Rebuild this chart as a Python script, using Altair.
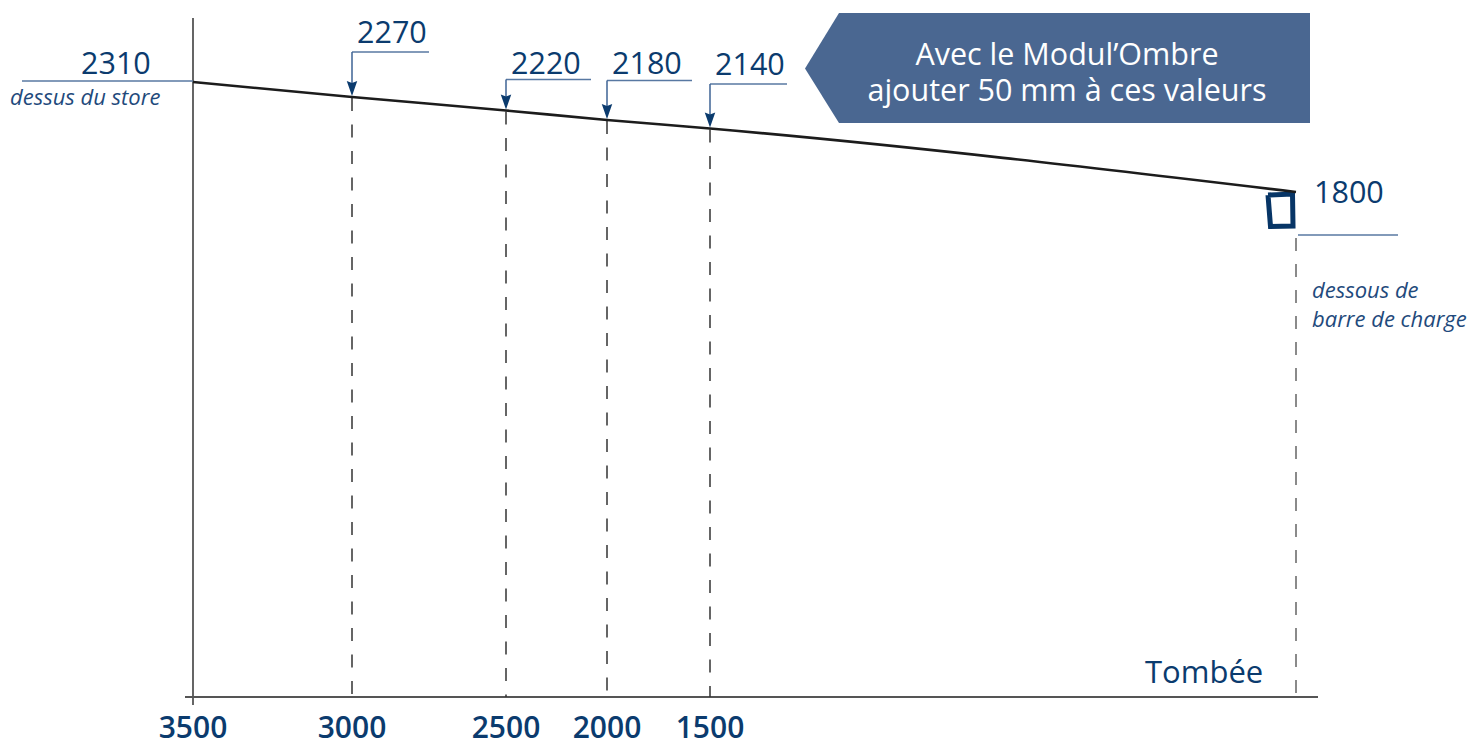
import altair as alt
import pandas as pd

# ---------------- values ----------------
tombee_labels = ["3500", "3000", "2500", "2000", "1500"]
height_labels = ["2310", "2270", "2220", "2180", "2140", "1800"]
# schematic (non-linear) positions of the drop stations, page px
station_x = [193, 352, 506, 607, 710, 1296]
# height of the awning top line at each station (schematic)
line_y = [82, 97, 110.5, 120, 128.5, 192]
# callout brackets for the intermediate heights
bracket_y = [52, 79.5, 80.5, 84]
bracket_end = [429, 591, 692, 787]
label_y = [43, 74, 74, 75]
callout_lines = ["Avec le Modul\u2019Ombre", "ajouter 50 mm \u00e0 ces valeurs"]
top_note = "dessus du store"
bottom_note = ["dessous de", "barre de charge"]
axis_title = "Tomb\u00e9e"

# ---------------- styles ----------------
NAVY = "#0b3b6e"
BLUEGREY = "#5878a2"
FILL = "#4a6791"
FONT = "Open Sans"
W, H = 1462, 733

xs = alt.Scale(domain=[8, 8 + W], nice=False, zero=False)
ys = alt.Scale(domain=[8, 8 + H], nice=False, zero=False, reverse=True)


def X(f="x"):
    return alt.X(f, type="quantitative", scale=xs, axis=None)


def Y(f="y"):
    return alt.Y(f, type="quantitative", scale=ys, axis=None)


# axes lines
axes_df = pd.DataFrame({
    "x": [station_x[0], station_x[0] - 8],
    "x2": [station_x[0], station_x[-1] + 22],
    "y": [18, 697],
    "y2": [705, 697],
})
axes = alt.Chart(axes_df).mark_rule(color="#555555", strokeWidth=1.8).encode(
    x=X(), x2="x2", y=Y(), y2="y2")

# dashed drop lines
dash_df = pd.DataFrame({
    "x": station_x[1:5],
    "y": [v + 1 for v in line_y[1:5]],
    "y2": [697] * 4,
})
dashes = alt.Chart(dash_df).mark_rule(color="#333333", strokeWidth=1.5,
                                      strokeDash=[13, 13.5]).encode(
    x=X(), y=Y(), y2="y2")

end_dash_df = pd.DataFrame({"x": [station_x[5]], "y": [238], "y2": [697]})
end_dash = alt.Chart(end_dash_df).mark_rule(color="#8a8a8a", strokeWidth=2,
                                            strokeDash=[13, 13]).encode(
    x=X(), y=Y(), y2="y2")

# small load-bar box
box_df = pd.DataFrame({
    "x": [1268, 1292.5, 1293, 1270.5, 1268],
    "y": [195, 194, 226, 226.5, 195],
    "o": [0, 1, 2, 3, 4],
})
box = alt.Chart(box_df).mark_line(color="#073566", strokeWidth=5,
                                  strokeJoin="miter").encode(
    x=X(), y=Y(), order="o")

# main sloped line
line_df = pd.DataFrame({"x": station_x, "y": line_y})
main_line = alt.Chart(line_df).mark_line(color="#1c1c1c", strokeWidth=2.6,
                                         interpolate="monotone").encode(
    x=X(), y=Y())

# underline rules for 2310 and 1800
under_df = pd.DataFrame({"x": [22, 1298], "x2": [193, 1398], "y": [81, 235]})
underlines = alt.Chart(under_df).mark_rule(color=BLUEGREY, strokeWidth=1.5).encode(
    x=X(), x2="x2", y=Y())

# brackets
br_h = pd.DataFrame({"x": station_x[1:5], "x2": bracket_end, "y": bracket_y})
brackets_h = alt.Chart(br_h).mark_rule(color=BLUEGREY, strokeWidth=1.5).encode(
    x=X(), x2="x2", y=Y())
br_v = pd.DataFrame({"x": station_x[1:5], "y": bracket_y,
                     "y2": [v - 9 for v in line_y[1:5]]})
brackets_v = alt.Chart(br_v).mark_rule(color="#3e6394", strokeWidth=1.5).encode(
    x=X(), y=Y(), y2="y2")

# arrowheads
arr_df = pd.DataFrame({"x": station_x[1:5], "y": [v - 8.5 for v in line_y[1:5]]})
arrows = alt.Chart(arr_df).mark_point(
    shape="M-0.7,-1 L0,-0.75 L0.7,-1 L0,1 Z", size=225, filled=True,
    color=NAVY, opacity=1, strokeWidth=0).encode(x=X(), y=Y())

# callout shape
call_df = pd.DataFrame({"x": [805, 839, 1310], "y": [68.5, 13, 13],
                        "y2": [68.5, 123, 123]})
callout = alt.Chart(call_df).mark_area(color=FILL, opacity=1, orient="vertical",
                                       interpolate="linear").encode(
    x=X(), y=Y(), y2="y2")

call_txt_df = pd.DataFrame({"x": [1067, 1067], "y": [64.5, 101], "t": callout_lines})
call_txt = alt.Chart(call_txt_df).mark_text(
    font=FONT, fontSize=30.5, color="white", align="center",
    baseline="alphabetic").encode(x=X(), y=Y(), text="t")

# height labels
hl_df = pd.DataFrame({
    "x": [81] + [v + 5 for v in station_x[1:5]] + [1314],
    "y": [74] + label_y + [203],
    "t": height_labels,
})
height_txt = alt.Chart(hl_df).mark_text(
    font=FONT, fontSize=30.5, color=NAVY, align="left",
    baseline="alphabetic").encode(x=X(), y=Y(), text="t")

# italic notes
note_df = pd.DataFrame({
    "x": [10, 1312, 1312],
    "y": [105, 298, 327],
    "t": [top_note] + bottom_note,
})
notes = alt.Chart(note_df).mark_text(
    font=FONT, fontSize=22, fontStyle="italic", color="#1f4a7c", align="left",
    baseline="alphabetic").encode(x=X(), y=Y(), text="t")

# axis title
title_df = pd.DataFrame({"x": [1145], "y": [683], "t": [axis_title]})
title_txt = alt.Chart(title_df).mark_text(
    font=FONT, fontSize=31, color=NAVY, align="left",
    baseline="alphabetic").encode(x=X(), y=Y(), text="t")

# tick labels
tick_df = pd.DataFrame({"x": station_x[:5], "y": [738] * 5, "t": tombee_labels})
tick_txt = alt.Chart(tick_df).mark_text(
    font=FONT, fontSize=30, fontWeight=600, color=NAVY, align="center",
    baseline="alphabetic").encode(x=X(), y=Y(), text="t")

chart = alt.layer(
    axes, dashes, end_dash, box, main_line, underlines, brackets_h, brackets_v,
    arrows, callout, call_txt, height_txt, notes, title_txt, tick_txt,
).properties(width=W, height=H, padding=0, autosize="none",
             background="white").configure_view(strokeWidth=0)

chart.save("out.html", embed_options={"renderer": "svg", "actions": False})
